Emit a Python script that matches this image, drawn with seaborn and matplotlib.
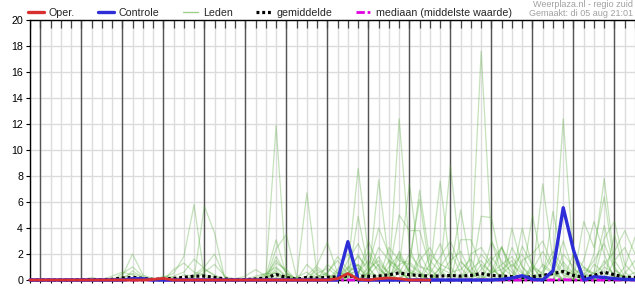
import numpy as np
import pandas as pd
import matplotlib
matplotlib.use("Agg")
import matplotlib.pyplot as plt
from matplotlib.lines import Line2D
import seaborn as sns

# ---------------- data ----------------
times = pd.date_range("2025-08-05 18:00", periods=60, freq="6h")
label_times = pd.date_range("2025-08-06 12:00", periods=14, freq="D")
midnights = pd.date_range("2025-08-06 00:00", periods=15, freq="D")
day_labels = ["Wo 6", "Do 7", "Vr 8", "Za 9", "Zo 10", "Ma 11", "Di 12",
              "Wo 13", "Do 14", "Vr 15", "Za 16", "Zo 17", "Ma 18", "Di 19"]
y_ticks = [0, 2, 4, 6, 8, 10, 12, 14, 16, 18, 20]

oper = [0, 0, 0, 0, 0, 0, 0, 0, 0, 0,
        0, 0, 0.05, 0.12, 0, 0, 0, 0, 0, 0,
        0, 0, 0, 0, 0, 0, 0, 0, 0, 0,
        0.1, 0.5, 0.05, 0, 0.1, 0.15, 0.1, 0, 0, 0]

controle = [0, 0, 0, 0, 0, 0, 0, 0, 0, 0,
            0.1, 0.1, 0, 0, 0, 0, 0, 0, 0, 0,
            0, 0, 0, 0, 0, 0, 0, 0, 0, 0,
            0, 2.95, 0, 0, 0, 0, 0, 0, 0, 0,
            0, 0, 0, 0, 0, 0, 0.05, 0.15, 0.33, 0.05,
            0, 0.7, 5.56, 2.3, 0, 0.25, 0.2, 0.1, 0.05, 0.03]

gemiddelde = [0, 0, 0, 0, 0, 0.02, 0.03, 0.03, 0.05, 0.15,
              0.2, 0.12, 0.05, 0.08, 0.12, 0.2, 0.3, 0.3, 0.2, 0.08,
              0.02, 0.03, 0.08, 0.15, 0.42, 0.2, 0.05, 0.2, 0.15, 0.2,
              0.25, 0.3, 0.3, 0.28, 0.3, 0.4, 0.55, 0.4, 0.35, 0.3,
              0.3, 0.35, 0.3, 0.35, 0.5, 0.35, 0.3, 0.25, 0.2, 0.25,
              0.35, 0.5, 0.65, 0.35, 0.2, 0.35, 0.6, 0.4, 0.2, 0.2]

mediaan = [0, 0, 0, 0, 0, 0, 0, 0, 0, 0,
           0, 0, 0, 0, 0, 0, 0, 0, 0, 0,
           0, 0, 0, 0, 0, 0, 0, 0, 0, 0,
           0, 0, 0, 0, 0, 0, 0, 0, 0, 0,
           0, 0, 0, 0, 0, 0, 0, 0, 0, 0,
           0, 0, 0.03, 0, 0, 0, 0, 0, 0, 0]

leden = [
    [0, 0, 0, 0, 0, 0, 0.2, 0, 0, 0.3,
     2.0, 0.4, 0.1, 0, 0, 0, 0, 0, 0, 0,
     0, 0, 0, 0, 0.9, 0.2, 0, 0, 0, 0,
     0, 0.5, 1.2, 0.4, 0, 0, 1.8, 0.6, 0, 0,
     1.0, 2.2, 0.5, 0, 0, 0, 0, 0, 0, 1.2,
     0.4, 0, 0, 0, 0, 0, 1.5, 0.3, 0, 0],
    [0, 0, 0, 0, 0, 0, 0, 0, 0, 0.5,
     1.0, 0.3, 0, 0.2, 0.5, 1.8, 5.8, 0.3, 0, 0,
     0, 0, 0, 0.3, 3.1, 0.4, 0, 0, 0, 0,
     0, 0, 4.9, 0.8, 1.5, 0.4, 0, 0, 0, 0,
     0, 0, 0, 0, 4.9, 4.8, 1.0, 0.3, 0, 0,
     0, 0, 1.4, 0.5, 0, 0, 0, 0, 0, 0],
    [0, 0, 0, 0, 0, 0, 0, 0, 0, 0,
     0.7, 0.2, 0, 0, 0, 0, 0.1, 5.7, 3.6, 0.1,
     0, 0, 0, 0, 0, 0, 0, 0.3, 1.15, 2.9,
     0.5, 0, 0, 0, 7.7, 1.3, 0.6, 0, 2.0, 0.5,
     0, 0, 0, 0, 0, 0, 0, 0, 4.0, 1.0,
     0, 0, 0, 0, 0, 0.6, 4.2, 0.8, 0, 0],
    [0, 0, 0, 0, 0, 0, 0, 0, 0.3, 0.6,
     0.4, 0, 0.1, 0, 0, 0, 0.4, 1.0, 2.0, 0.2,
     0, 0, 0, 0.4, 11.9, 0.5, 0, 0, 0, 0,
     0, 0.8, 8.6, 2.0, 0.5, 0, 0, 1.4, 0.6, 0,
     0, 0, 0, 0, 0, 0.6, 2.6, 0, 0, 0,
     0, 5.3, 1.2, 0.3, 0, 0, 0, 0, 0, 0],
    [0, 0, 0, 0, 0, 0, 0, 0, 0, 0,
     0, 0, 0, 0, 0.8, 1.3, 0.6, 0.4, 0.2, 0,
     0, 0, 0, 0, 2.4, 3.5, 0.2, 0, 0, 0.6,
     1.5, 0.4, 0, 0, 0, 0, 12.4, 2.5, 0.6, 0,
     0, 0, 3.1, 3.1, 1.0, 0, 0, 0, 0, 0.3,
     7.4, 1.5, 0.4, 0, 0, 0, 0, 0, 1.0, 3.3],
    [0, 0, 0, 0, 0, 0, 0, 0, 0, 0,
     0, 0, 0, 0.3, 0.2, 0, 0, 0, 0, 0,
     0, 0, 0, 0, 1.8, 0.5, 0.1, 6.7, 0.4, 0,
     0, 0, 0, 1.0, 4.0, 2.0, 0.7, 0, 0, 0,
     0.6, 8.8, 1.5, 0.5, 0, 0, 0, 4.0, 1.0, 0.3,
     0, 0, 0, 0, 0, 2.0, 7.8, 1.5, 0.3, 0],
    [0, 0, 0, 0, 0, 0, 0, 0, 0, 0,
     0, 0, 0, 0, 0, 0, 0, 0.6, 1.2, 0.3,
     0, 0, 0, 0, 1.3, 0.8, 0, 0, 1.0, 0.4,
     0, 1.5, 2.8, 1.0, 0, 0.5, 5.0, 3.8, 3.8, 1.0,
     0, 0, 0, 1.2, 17.6, 3.0, 0.5, 0, 0, 0,
     0, 0.8, 12.4, 1.5, 0.5, 0, 0, 0, 0, 0],
    [0, 0, 0, 0, 0, 0, 0, 0, 0, 0,
     0, 0, 0, 0, 0, 0, 0, 0, 0, 0,
     0, 0, 0.3, 0.5, 0.5, 0, 0, 0, 0, 0,
     0.3, 1.0, 0.6, 0, 0, 1.5, 1.0, 7.4, 1.2, 0.3,
     0, 0, 0, 0, 2.0, 1.0, 0, 0, 0, 5.0,
     1.0, 0.5, 0, 0, 4.5, 2.5, 6.4, 1.0, 0, 0],
    [0, 0, 0, 0, 0, 0, 0, 0, 0, 0,
     0.2, 0, 0, 0, 0, 0, 0, 0, 0, 0,
     0, 0, 0, 0, 0.4, 0, 0, 0, 0.8, 0.3,
     0, 0, 0.5, 2.2, 1.0, 0, 0, 1.0, 6.9, 1.5,
     0.6, 0, 0, 0, 0, 0, 2.5, 1.0, 2.0, 0.5,
     0, 0, 0, 0, 0, 0, 1.0, 0.5, 0.2, 0],
    [0, 0, 0, 0, 0, 0, 0, 0, 0, 0,
     0, 0, 0, 0, 0, 0, 0, 0, 0, 0,
     0, 0, 0, 0, 0, 0.3, 0, 0, 0, 0,
     0.8, 2.0, 1.0, 0, 0, 0, 1.2, 1.5, 6.2, 0.6,
     7.6, 1.0, 0, 0, 0, 1.5, 2.5, 0.8, 0, 0,
     0, 0, 0, 2.0, 1.0, 0.5, 0, 0, 0, 0],
    [0, 0, 0, 0, 0, 0, 0, 0, 0, 0,
     0, 0, 0, 0, 0, 0.4, 0.3, 0, 0, 0,
     0, 0, 0, 0, 0.2, 0, 0, 0, 0, 1.2,
     0.5, 0.5, 0.6, 1.5, 0.8, 0.3, 0, 0, 0, 2.0,
     1.2, 0.8, 5.4, 1.0, 0, 0, 0, 0, 1.5, 2.0,
     3.0, 1.0, 0, 0, 0, 0, 0, 1.5, 2.5, 0.8],
    [0, 0, 0, 0, 0, 0, 0, 0, 0, 0,
     0, 0, 0, 0, 0, 0, 0, 0, 0, 0,
     0, 0, 0, 0, 0, 0, 0, 0, 0, 0,
     0, 0.3, 2.0, 0.5, 2.5, 1.5, 0.8, 0, 0, 0.5,
     1.8, 3.0, 1.0, 0, 1.2, 0.6, 0.8, 1.5, 0, 0,
     0.7, 2.2, 1.0, 0, 1.5, 4.5, 2.0, 0, 0, 0],
    [0, 0, 0, 0, 0, 0, 0, 0, 0, 0,
     0, 0, 0, 0, 0, 0, 0, 0, 0, 0,
     0, 0, 0, 0, 0, 0, 0.2, 0.6, 0, 0,
     0.2, 0.6, 1.2, 0, 0, 2.5, 1.5, 1.2, 0.5, 0,
     0, 0, 0, 2.0, 2.5, 1.2, 0, 2.5, 1.0, 0,
     0, 0, 2.0, 1.0, 0, 0, 0, 3.5, 0.6, 0],
    [0, 0, 0, 0, 0, 0, 0, 0, 0, 0.2,
     0.5, 0.2, 0, 0, 0, 0, 0, 0, 0, 0,
     0, 0, 0, 0.2, 0.6, 0.1, 0, 0, 0, 0,
     0.6, 0.3, 0.9, 0.3, 1.2, 0.6, 0, 0.8, 0.4, 0,
     0.9, 0.5, 0, 0, 0.8, 1.8, 0.6, 0, 0, 1.0,
     0.5, 1.8, 0.6, 0, 0, 1.2, 0.6, 0.2, 0, 0],
    [0, 0, 0, 0, 0, 0, 0, 0, 0, 0,
     0, 0, 0, 0, 0, 0, 0.3, 0.8, 0.4, 0,
     0, 0, 0, 0, 0.7, 0, 0, 0, 0.5, 0.9,
     0.3, 0, 0, 0.5, 0.3, 0, 0.5, 2.0, 1.0, 0.8,
     0, 0, 1.4, 0.6, 0.3, 0, 0.4, 1.2, 0.5, 0,
     0, 0, 0.8, 0.4, 1.0, 0.3, 0, 0, 0.5, 1.5],
    [0, 0, 0, 0, 0, 0, 0, 0, 0, 0,
     0, 0, 0, 0, 0, 0, 0, 0, 0, 0,
     0.1, 0.3, 0.8, 0.3, 1.5, 0.6, 0, 0, 0.3, 0.5,
     1.8, 0.8, 0, 0.6, 1.8, 0.4, 0.9, 0, 1.5, 2.5,
     0.8, 0, 0, 0.8, 1.5, 0.5, 1.2, 1.8, 0.6, 0,
     1.2, 0.6, 0, 0.8, 0.4, 1.5, 2.8, 0.8, 0.2, 0.6],
    [0, 0, 0, 0, 0, 0, 0, 0, 0, 0,
     0, 0, 0, 0, 0.3, 0.6, 1.6, 0.9, 0.3, 0,
     0, 0, 0, 0, 0, 0, 0, 1.2, 0.4, 0,
     0, 0.2, 0.4, 3.0, 1.1, 0, 2.2, 0.7, 0, 1.2,
     2.8, 0.6, 0.8, 1.6, 0, 0.8, 0.3, 0, 2.6, 1.1,
     0, 0.4, 3.0, 0.6, 0, 0, 3.2, 4.5, 1.2, 0.4],
    [0, 0, 0, 0, 0, 0, 0, 0, 0, 0,
     0, 0, 0, 0, 0, 0, 0, 0, 0, 0,
     0, 0, 0.1, 0.5, 1.0, 0.3, 0, 0, 0, 0.4,
     0.2, 0.9, 1.8, 0.9, 0, 1.0, 2.0, 0.6, 0.3, 0,
     0.4, 1.5, 2.2, 0.5, 0, 3.0, 1.4, 0.6, 0, 0.8,
     2.2, 0.8, 0, 0, 0.8, 0.5, 1.2, 2.2, 3.8, 2.0],
]

# ---------------- figure ----------------
sns.set_theme(style="white")
plt.rcParams["font.family"] = ["Liberation Sans", "DejaVu Sans"]
FS = 7.7

fig = plt.figure(figsize=(6.35, 3.0), dpi=100)
ax = fig.add_axes([30 / 635, 20 / 300, 605 / 635, 260 / 300])

rows = []
for m, vals in enumerate(leden):
    for t, v in zip(times, vals):
        rows.append({"time": t, "value": v, "member": m})
df_leden = pd.DataFrame(rows)

green = "#4fa832"
sns.lineplot(data=df_leden, x="time", y="value", units="member", estimator=None,
             color=green, alpha=0.33, lw=0.9, ax=ax, legend=False, zorder=3)

sns.lineplot(x=times, y=gemiddelde, color="black", lw=2.3,
             linestyle=(0, (0.9, 0.9)), dash_capstyle="butt",
             ax=ax, zorder=4, clip_on=False)
sns.lineplot(x=times, y=mediaan, color="#e000e0", lw=2.0,
             linestyle=(0, (3, 1, 1, 1)), ax=ax, zorder=5, clip_on=False)
sns.lineplot(x=times, y=controle, color="#2e2ed8", lw=2.4, ax=ax, zorder=6,
             clip_on=False)
sns.lineplot(x=times[:len(oper)], y=oper, color="#d83030", lw=2.0, ax=ax,
             zorder=7, clip_on=False)

ax.set_xlim(times[0], times[-1])
ax.set_ylim(0, 20)
ax.set_xlabel("")
ax.set_ylabel("")

# grid
ax.set_yticks(y_ticks)
ax.set_yticklabels([str(v) for v in y_ticks])
ax.set_xticks(times)
ax.set_xticklabels([])
ax.set_xticks(label_times, minor=True)
ax.set_xticklabels(day_labels, minor=True)
ax.grid(True, which="major", axis="both", color="#dcdcdc", lw=1.0, zorder=1)
for t in midnights:
    ax.axvline(t, color="#555555", lw=1.0, zorder=2)
ax.vlines(times, 0.968, 1.0, transform=ax.get_xaxis_transform(),
          color="#444444", lw=0.9, zorder=2)
ax.set_axisbelow(True)

ax.tick_params(axis="y", which="major", length=3, width=0.8, color="black",
               pad=2, labelsize=FS, labelcolor="black", left=True)
ax.tick_params(axis="x", which="major", length=2.5, width=0.8, color="black",
               bottom=True, direction="out")
ax.tick_params(axis="x", which="minor", length=0, pad=5.5, labelsize=FS,
               labelcolor="black")

for side in ["left", "top", "bottom"]:
    ax.spines[side].set_visible(True)
    ax.spines[side].set_color("black")
    ax.spines[side].set_linewidth(1.0)
ax.spines["right"].set_visible(False)

# legend
handles = [
    Line2D([], [], color="#d83030", lw=2.4),
    Line2D([], [], color="#2e2ed8", lw=2.4),
    Line2D([], [], color="#9fd08a", lw=1.0),
    Line2D([], [], color="black", lw=2.3, linestyle=(0, (0.9, 0.9))),
    Line2D([], [], color="#e000e0", lw=2.0, linestyle=(0, (3, 1, 1, 1))),
]
labels = ["Oper.", "Controle", "Leden", "gemiddelde", "mediaan (middelste waarde)"]
fig.legend(handles, labels, loc="center left", bbox_to_anchor=(28 / 635, 1 - 13 / 300),
           ncol=5, frameon=False, fontsize=FS, handlelength=1.45, handletextpad=0.45,
           columnspacing=2.2, borderpad=0, borderaxespad=0)

fig.text(633 / 635, 1 - 4.5 / 300, "Weerplaza.nl - regio zuid", ha="right",
         va="center", color="#a0a0a0", fontsize=6.5)
fig.text(633 / 635, 1 - 13.5 / 300, "Gemaakt: di 05 aug 21:01", ha="right",
         va="center", color="#a0a0a0", fontsize=6.5)

fig.savefig("out.png", dpi=100)
